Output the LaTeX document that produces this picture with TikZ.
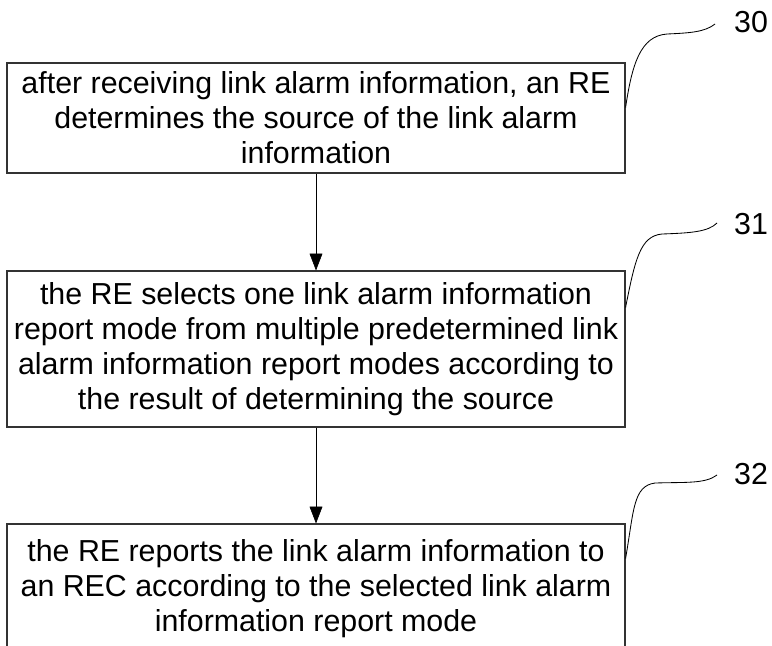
\documentclass[tikz,border=0pt]{standalone}
\usepackage{fontspec}
\setmainfont{Liberation Sans}
\usetikzlibrary{arrows.meta,calc}
\begin{document}
\begin{tikzpicture}[x=0.25mm,y=-0.25mm,
  stepbox/.style={draw=black!80,line width=0.8pt,minimum width=154.5mm,align=center,
    font=\fontsize{21.6pt}{24.9pt}\selectfont},
  num/.style={font=\fontsize{21.6pt}{24.9pt}\selectfont},
  leader/.style={line width=0.6pt}]
\clip (0,0) rectangle (772,645);
\node[stepbox,minimum height=27.5mm] at (316,118) (s30) {after receiving link alarm information, an RE\\determines the source of the link alarm\\information};
\node[stepbox,minimum height=39mm] at (316,349) (s31) {the RE selects one link alarm information\\report mode from multiple predetermined link\\alarm information report modes according to\\the result of determining the source};
\node[stepbox,minimum height=32.5mm] at (316,589) (s32) {the RE reports the link alarm information to\\an REC according to the selected link alarm\\information report mode};
\node[num] at (751,22) (n30) {30};
\node[num] at (751,224) (n31) {31};
\node[num] at (751,474) (n32) {32};
\coordinate (t30) at (715,24);
\coordinate (t31) at (717,223);
\coordinate (t32) at (717,475);
\draw[-{Triangle[length=4.2mm,width=3.2mm]}] (s30) -- (s31);
\draw[-{Triangle[length=4.2mm,width=3.2mm]}] (s31) -- (s32);
\draw[leader] ($(s30.north east)+(0,45)$) .. controls (632,65) and (640,36) .. (667,34)
  .. controls (690,33) and (705,32) .. (t30);
\draw[leader] ($(s31.north east)+(0,37)$) .. controls (635,260) and (640,236) .. (662,234)
  .. controls (690,233) and (708,232) .. (t31);
\draw[leader] ($(s32.north east)+(0,35)$) .. controls (634,510) and (633,486) .. (655,483)
  .. controls (685,482) and (705,484) .. (t32);
\end{tikzpicture}
\end{document}
